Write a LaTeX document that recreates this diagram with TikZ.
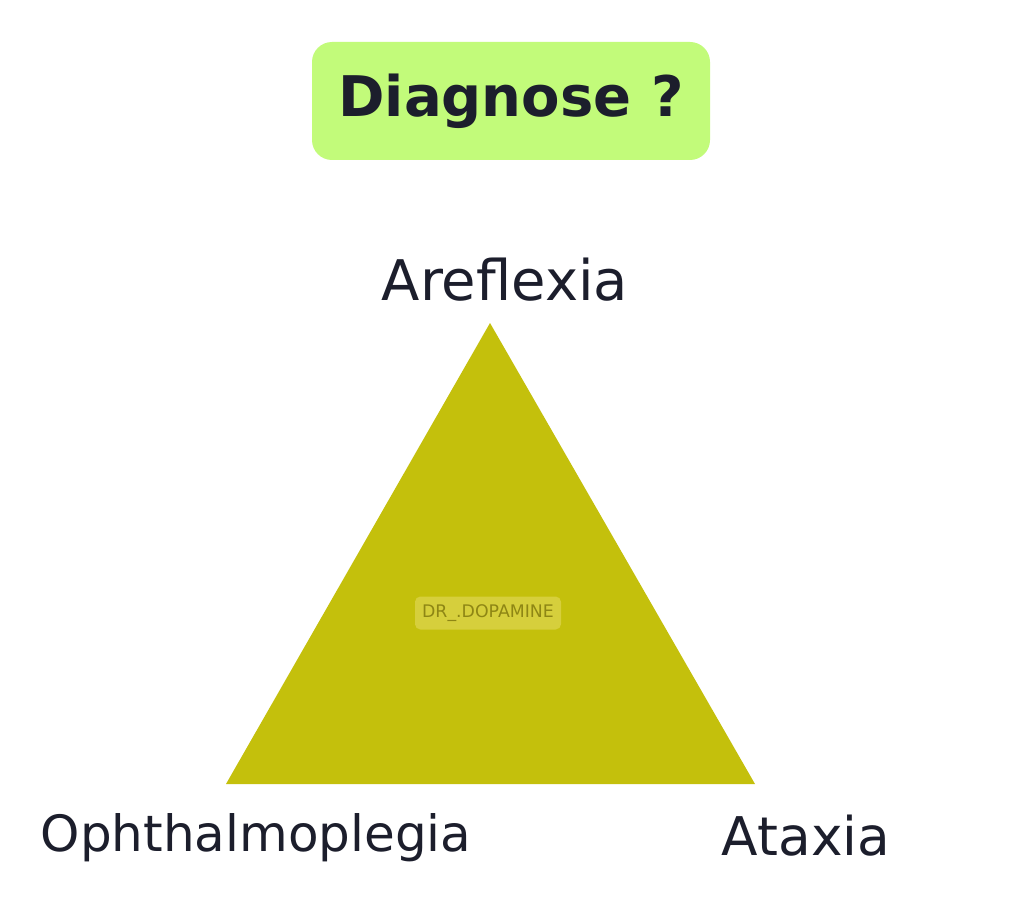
\documentclass[tikz,border=0pt]{standalone}
\usepackage{fontspec}
\setmainfont{DejaVu Sans}
\definecolor{tri}{HTML}{C4C00C}
\definecolor{titlebg}{HTML}{C2FB7A}
\definecolor{ink}{HTML}{1C1E2C}
\definecolor{wmbg}{HTML}{D6CF3C}
\definecolor{wmtext}{HTML}{8E8614}
\tikzset{
  lbl/.style={text=ink, inner sep=0pt},
  titlebox/.style={fill=titlebg, rounded corners=15pt, minimum width=298.5pt, minimum height=88.5pt, inner sep=0pt},
  wmbox/.style={fill=wmbg, rounded corners=4pt, minimum width=109.5pt, minimum height=24.75pt, inner sep=0pt, text=wmtext, font=\fontsize{13}{15}\selectfont}
}
\begin{document}
\begin{tikzpicture}[x=0.75pt,y=-0.75pt]
\useasboundingbox (0,0) rectangle (1010,920);
\fill[white] (0,0) rectangle (1010,920);
\node[titlebox, text=ink, font=\fontsize{42}{50}\selectfont\bfseries] (title) at (511,101) {Diagnose ?};
\coordinate (apex) at (490,323);
\coordinate (bl) at (226,784);
\coordinate (br) at (755,784);
\fill[tri] (apex) -- (bl) -- (br) -- cycle;
\node[wmbox] (wm) at (488,613) {DR\_.DOPAMINE};
\node[lbl, font=\fontsize{42}{50}\selectfont] (are) at (505,280) {Areflexia};
\node[lbl, font=\fontsize{37.5}{45}\selectfont] (oph) at (256,838) {Ophthalmoplegia};
\node[lbl, font=\fontsize{40}{48}\selectfont] (ata) at (806,836) {Ataxia};
\end{tikzpicture}
\end{document}
